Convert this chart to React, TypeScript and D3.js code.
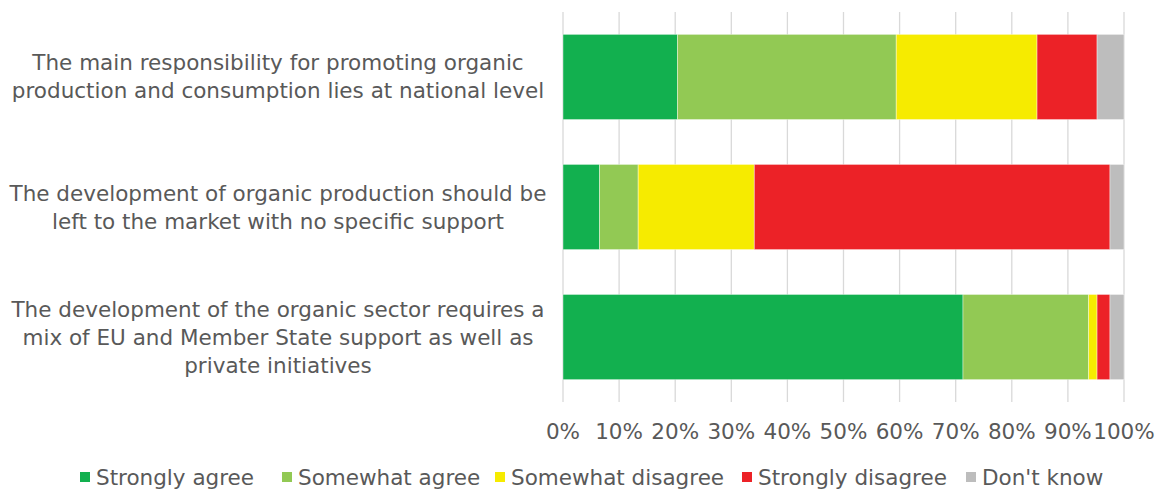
import React from "react";
import * as d3 from "d3";

const categories = [
  ["The main responsibility for promoting organic", "production and consumption lies at national level"],
  ["The development of organic production should be", "left to the market with no specific support"],
  ["The development of the organic sector requires a", "mix of EU and Member State support as well as", "private initiatives"],
];
const seriesNames = ["Strongly agree", "Somewhat agree", "Somewhat disagree", "Strongly disagree", "Don't know"];
const stronglyAgree = [20.4, 6.5, 71.3];
const somewhatAgree = [39.0, 6.9, 22.4];
const somewhatDisagree = [25.1, 20.7, 1.5];
const stronglyDisagree = [10.7, 63.4, 2.3];
const dontKnow = [4.8, 2.5, 2.5];
const tickValues = [0, 10, 20, 30, 40, 50, 60, 70, 80, 90, 100];
const colors = ["#12B04F", "#92C954", "#F6EB00", "#EC2227", "#BDBDBD"];

const W = 1162;
const H = 491;
const FONT = "'DejaVu Sans', Verdana, sans-serif";
const FS = 21.5;

export default function App() {
  const series = [stronglyAgree, somewhatAgree, somewhatDisagree, stronglyDisagree, dontKnow];
  const x = d3.scaleLinear().domain([0, 100]).range([563, 1124]);
  const y = d3
    .scaleBand<number>()
    .domain(categories.map((_, i) => i))
    .range([12, 402])
    .paddingInner(0.345)
    .paddingOuter(0.172);
  const rows = categories.map((_, i) => {
    const obj: Record<string, number> = {};
    seriesNames.forEach((n, s) => (obj[n] = series[s][i]));
    return obj;
  });
  const stacked = d3.stack<Record<string, number>>().keys(seriesNames)(rows);

  const legendX = [80, 282, 495, 742, 966];

  return (
    <div style={{ position: "absolute", left: 0, top: 0 }}>
      <svg width={W} height={H} style={{ display: "block", background: "#fff" }}>
        {tickValues.map((t) => (
          <line key={t} x1={x(t)} x2={x(t)} y1={12} y2={402} stroke="#D9D9D9" strokeWidth={1.3} />
        ))}
        {stacked.map((layer, s) =>
          layer.map((d, i) => (
            <rect
              key={s + "-" + i}
              x={x(d[0])}
              y={y(i)!}
              width={x(d[1]) - x(d[0])}
              height={y.bandwidth()}
              fill={colors[s]}
              stroke="#ffffff"
              strokeOpacity={0.5}
              strokeWidth={0.8}
            />
          ))
        )}
        {tickValues.map((t) => (
          <text
            key={"t" + t}
            x={x(t)}
            y={439}
            textAnchor="middle"
            fontFamily={FONT}
            fontSize={FS}
            fill="#595959"
          >
            {t + "%"}
          </text>
        ))}
        {categories.map((lines, i) => {
          const cy = y(i)! + y.bandwidth() / 2;
          const lh = 28;
          const start = cy - ((lines.length - 1) * lh) / 2;
          return lines.map((ln, k) => (
            <text
              key={"c" + i + k}
              x={278}
              y={start + k * lh}
              dy="0.35em"
              textAnchor="middle"
              fontFamily={FONT}
              fontSize={FS}
              fill="#595959"
            >
              {ln}
            </text>
          ));
        })}
        {seriesNames.map((n, s) => (
          <g key={"l" + s}>
            <rect x={legendX[s]} y={472} width={10} height={10} fill={colors[s]} />
            <text x={legendX[s] + 16} y={477} dy="0.35em" fontFamily={FONT} fontSize={FS} fill="#595959">
              {n}
            </text>
          </g>
        ))}
      </svg>
    </div>
  );
}
